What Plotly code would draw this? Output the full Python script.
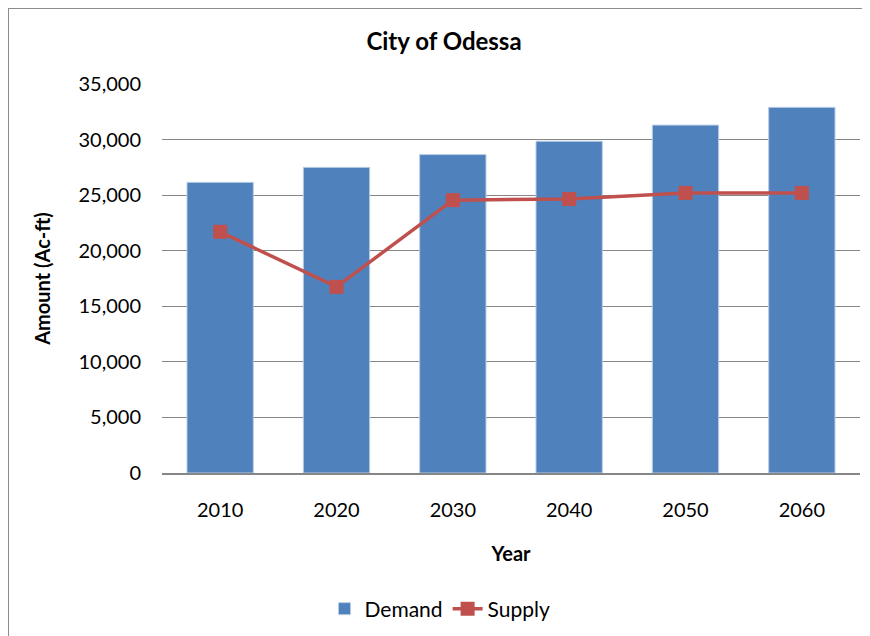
import plotly.graph_objects as go

years = ["2010", "2020", "2030", "2040", "2050", "2060"]
demand = [26150, 27500, 28650, 29850, 31300, 32900]
supply = [21700, 16750, 24550, 24650, 25200, 25200]
y_ticks = [0, 5000, 10000, 15000, 20000, 25000, 30000, 35000]
y_tick_text = ["0", "5,000", "10,000", "15,000", "20,000", "25,000", "30,000", "35,000"]

FONT = "Lato, Carlito, Calibri, sans-serif"

# page body has an 8px margin, so figure coords = screen coords - 8
OFF = 8
W, H = 870, 636
L, T = 162 - OFF, 84 - OFF
R = W - (860 - OFF)
B = H - (473 - OFF)
pw, ph = W - L - R, H - T - B

def px_y(sy):
    return ((473 - OFF) - (sy - OFF)) / ph

def px_x(sx):
    return ((sx - OFF) - L) / pw

fig = go.Figure()
fig.add_trace(go.Bar(
    x=years, y=demand, name="Demand",
    marker=dict(color="#4F81BD", line=dict(color="#B8CCE4", width=1)),
))
fig.add_trace(go.Scatter(
    x=years, y=supply, name="Supply", mode="lines+markers",
    line=dict(color="#C0504D", width=3.5),
    marker=dict(symbol="square", size=14, color="#C0504D"),
))

top_y = px_y(8)
left_x = px_x(8)

fig.update_layout(
    width=W, height=H,
    margin=dict(l=L, r=R, t=T, b=B),
    paper_bgcolor="white", plot_bgcolor="white",
    font=dict(family=FONT, size=20, color="black"),
    title=dict(text="<b>City of Odessa</b>", x=(444 - OFF) / W, xanchor="center",
               y=1 - (42 - OFF) / H, yanchor="middle", font=dict(size=24, family=FONT)),
    bargap=0.43,
    showlegend=True,
    legend=dict(orientation="h", x=px_x(440), xanchor="center", y=px_y(609),
                yanchor="middle", font=dict(size=21), traceorder="normal"),
    xaxis=dict(
        title=dict(text="<b>Year</b>", font=dict(size=20), standoff=27),
        showgrid=False, showline=True, linecolor="#868686", linewidth=2,
        ticks="", tickfont=dict(size=20), ticklabelstandoff=18,
    ),
    yaxis=dict(
        title=dict(text="<b>Amount (Ac-ft)</b>", font=dict(size=20), standoff=22),
        range=[0, 35000], tickvals=y_ticks, ticktext=y_tick_text,
        showgrid=True, gridcolor="#868686", gridwidth=1,
        zeroline=False, showline=False, ticks="", tickfont=dict(size=20),
        ticklabelstandoff=20,
    ),
    shapes=[
        dict(type="line", xref="paper", yref="paper", x0=left_x, x1=1.05,
             y0=top_y, y1=top_y, line=dict(color="#8C8C8C", width=2)),
        dict(type="line", xref="paper", yref="paper", x0=left_x, x1=left_x,
             y0=top_y, y1=-0.5, line=dict(color="#8C8C8C", width=2)),
    ],
)

fig.write_html("out.html")
